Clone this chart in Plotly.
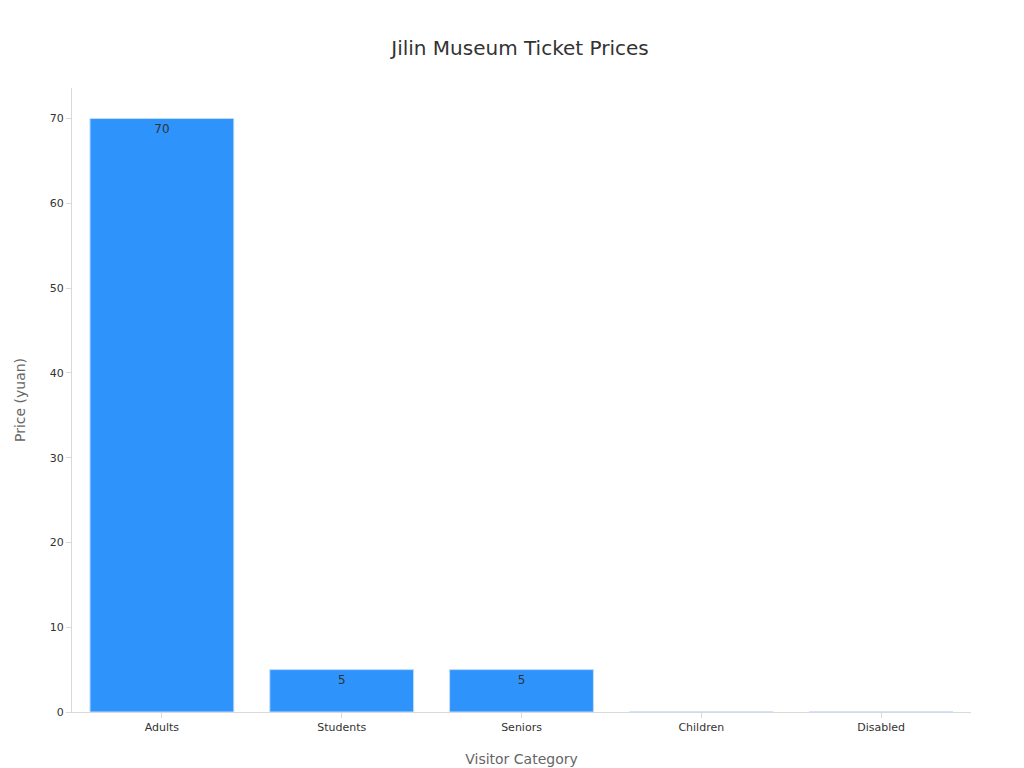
import plotly.graph_objects as go

categories = ["Adults", "Students", "Seniors", "Children", "Disabled"]
prices = [70, 5, 5, 0, 0]
labels = ["70", "5", "5", "", ""]

fig = go.Figure(go.Bar(
    x=categories, y=prices, text=labels, textposition="inside",
    insidetextanchor="end", textangle=0,
    textfont=dict(color="#333333", size=12),
    marker=dict(color="#2E93FA", line=dict(color="#BFDDFD", width=1)),
    width=0.8,
))
fig.update_layout(
    width=1024, height=768,
    paper_bgcolor="white", plot_bgcolor="white",
    font=dict(family="DejaVu Sans, Noto Sans, sans-serif", color="#333333"),
    title=dict(text="Jilin Museum Ticket Prices", x=0.5, xanchor="center", y=0.957,
               font=dict(size=20, color="#333333")),
    margin=dict(l=60, r=61, t=80, b=60),
    showlegend=False,
    xaxis=dict(title=dict(text="Visitor Category", font=dict(size=14, color="#666666"), standoff=20),
               showline=True, linecolor="#D9D9D9", ticks="outside", tickcolor="#D9D9D9",
               tickfont=dict(size=11, color="#333333")),
    yaxis=dict(title=dict(text="Price (yuan)", font=dict(size=14, color="#666666"), standoff=20),
               range=[0, 73.6], dtick=10, showgrid=False, zeroline=False,
               showline=True, linecolor="#D9D9D9", ticks="outside", tickcolor="#D9D9D9",
               tickfont=dict(size=11, color="#333333")),
)
fig.write_html("out.html")
